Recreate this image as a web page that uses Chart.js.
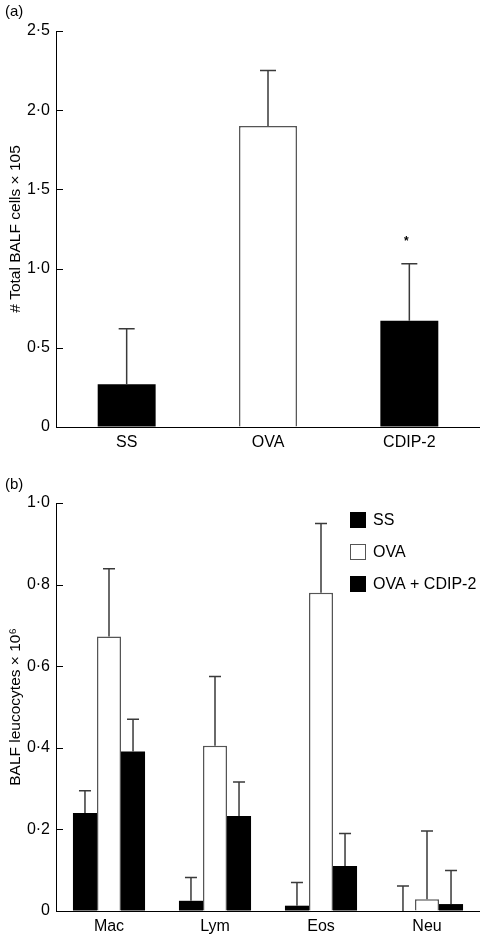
<!DOCTYPE html>
<html>
<head>
<meta charset="utf-8">
<script src="https://cdn.jsdelivr.net/npm/chart.js@4/dist/chart.umd.min.js"></script>
<style>
html, body { margin: 0; padding: 0; background: #fff; }
body { width: 480px; height: 936px; position: relative; overflow: hidden; font-family: 'Liberation Sans', Arial, Helvetica, sans-serif; }
.panel { position: absolute; left: 0; width: 480px; }
#wrapA { top: 0; height: 460px; }
#wrapB { top: 460px; height: 476px; }
.tag { position: absolute; left: 5px; font-size: 15px; line-height: 15px; color: #000; }
</style>
</head>
<body>
<div class="panel" id="wrapA"><canvas id="chartA" width="480" height="460"></canvas></div>
<div class="panel" id="wrapB"><canvas id="chartB" width="480" height="476"></canvas></div>
<div class="tag" style="top:3px">(a)</div>
<div class="tag" style="top:476px">(b)</div>
<script>
// panel (a) - total cells
const totalLabels = ['SS', 'OVA', 'CDIP-2'];
const totalMeans = [0.27, 1.9, 0.67];
const totalErrors = [0.35, 0.35, 0.36];
const totalMarks = ['', '', '*'];
const totalTicks = [0, 0.5, 1, 1.5, 2, 2.5];

// panel (b) - cell types
const cellLabels = ['Mac', 'Lym', 'Eos', 'Neu'];
const groupNames = ['SS', 'OVA', 'OVA + CDIP-2'];
const ssMeans = [0.24, 0.025, 0.013, 0];
const ssErrors = [0.055, 0.057, 0.057, 0.061];
const ovaMeans = [0.673, 0.405, 0.78, 0.029];
const ovaErrors = [0.166, 0.17, 0.17, 0.167];
const cdipMeans = [0.391, 0.233, 0.11, 0.017];
const cdipErrors = [0.079, 0.083, 0.08, 0.082];
const cellTicks = [0, 0.2, 0.4, 0.6, 0.8, 1.0];

const fontFamily = "'Liberation Sans', Arial, Helvetica, sans-serif";
Chart.defaults.font.family = fontFamily;
Chart.defaults.color = '#000';

function tickText(value) {
    return value === 0 ? '0' : value.toFixed(1).replace('.', '\u00b7');
}

// error bars (upper half only) + significance marks
const errorBars = {
    id: 'errorBars',
    afterDatasetsDraw(chart, args, opts) {
        const ctx = chart.ctx;
        const yScale = chart.scales.y;
        ctx.save();
        ctx.strokeStyle = '#3a3a3a';
        ctx.lineWidth = 1.5;
        chart.data.datasets.forEach(function(ds, i) {
            const meta = chart.getDatasetMeta(i);
            meta.data.forEach(function(bar, j) {
                const top = yScale.getPixelForValue(ds.data[j] + ds.errors[j]);
                ctx.beginPath();
                ctx.moveTo(bar.x, bar.y);
                ctx.lineTo(bar.x, top);
                ctx.moveTo(bar.x - opts.cap / 2, top);
                ctx.lineTo(bar.x + opts.cap / 2, top);
                ctx.stroke();
                if (ds.marks && ds.marks[j]) {
                    ctx.fillStyle = '#000';
                    ctx.font = 'bold 12px ' + fontFamily;
                    ctx.textAlign = 'center';
                    ctx.textBaseline = 'alphabetic';
                    ctx.fillText(ds.marks[j], bar.x - 3, top - 19);
                }
            });
        });
        ctx.restore();
    }
};

// y ticks pointing into the plot
const innerTicks = {
    id: 'innerTicks',
    afterDraw(chart, args, opts) {
        const ctx = chart.ctx;
        const yScale = chart.scales.y;
        ctx.save();
        ctx.strokeStyle = '#000';
        ctx.lineWidth = 1;
        yScale.ticks.forEach(function(t) {
            const py = Math.round(yScale.getPixelForValue(t.value)) + 0.5;
            ctx.beginPath();
            ctx.moveTo(yScale.right, py);
            ctx.lineTo(yScale.right + opts.length, py);
            ctx.stroke();
        });
        ctx.restore();
    }
};

// boxed legend inside the plot (panel b)
const boxLegend = {
    id: 'boxLegend',
    afterDraw(chart, args, opts) {
        if (!opts.show) return;
        const ctx = chart.ctx;
        ctx.save();
        ctx.font = '16px ' + fontFamily;
        ctx.textBaseline = 'middle';
        ctx.textAlign = 'left';
        chart.data.datasets.forEach(function(ds, i) {
            const cy = opts.top + i * opts.spacing;
            ctx.fillStyle = ds.backgroundColor;
            ctx.fillRect(opts.left, cy - 8, 16, 16);
            ctx.strokeStyle = ds.borderColor;
            ctx.lineWidth = 1;
            ctx.strokeRect(opts.left + 0.5, cy - 7.5, 15, 15);
            ctx.fillStyle = '#000';
            ctx.fillText(ds.label, opts.left + 23, cy + 1);
        });
        ctx.restore();
    }
};

function axisX() {
    return {
        grid: { drawOnChartArea: false, drawTicks: false },
        border: { display: true, color: '#000', width: 1 },
        ticks: { font: { size: 16 }, padding: 6 }
    };
}

function axisY(maxVal, tickList, titleText, axisW) {
    return {
        min: 0,
        max: maxVal,
        afterBuildTicks: function(s) { s.ticks = tickList.map(function(v) { return { value: v }; }); },
        grid: { drawOnChartArea: false, drawTicks: false },
        border: { display: true, color: '#000', width: 1 },
        ticks: { font: { size: 16 }, padding: 6, callback: tickText },
        title: { display: true, text: titleText, font: { size: 15.5 }, padding: { top: 6, bottom: 0 } },
        afterFit: function(s) { s.width = axisW; }
    };
}

const xA = axisX();
xA.afterFit = function(s) { s.height = 33; };
new Chart(document.getElementById('chartA'), {
    type: 'bar',
    data: {
        labels: totalLabels,
        datasets: [{
            label: 'Total',
            data: totalMeans,
            errors: totalErrors,
            marks: totalMarks,
            backgroundColor: ['#000', '#fff', '#000'],
            borderColor: ['#000', '#555', '#000'],
            borderWidth: [0, 1.5, 0],
            barPercentage: 0.41,
            categoryPercentage: 1.0
        }]
    },
    options: {
        responsive: false,
        animation: false,
        layout: { padding: { top: 31, right: 0, left: 0, bottom: 0 } },
        scales: {
            x: xA,
            y: axisY(2.5, totalTicks, '# Total BALF cells \u00d7 105', 56)
        },
        plugins: {
            legend: { display: false },
            tooltip: { enabled: false },
            errorBars: { cap: 16 },
            innerTicks: { length: 7 },
            boxLegend: { show: false }
        }
    },
    plugins: [errorBars, innerTicks, boxLegend]
});

const xB = axisX();
xB.afterFit = function(s) { s.height = 25; };
new Chart(document.getElementById('chartB'), {
    type: 'bar',
    data: {
        labels: cellLabels,
        datasets: [
            { label: groupNames[0], data: ssMeans, errors: ssErrors, backgroundColor: '#000', borderColor: '#000', borderWidth: 0 },
            { label: groupNames[1], data: ovaMeans, errors: ovaErrors, backgroundColor: '#fff', borderColor: '#555', borderWidth: 1.5 },
            { label: groupNames[2], data: cdipMeans, errors: cdipErrors, backgroundColor: '#000', borderColor: '#000', borderWidth: 0 }
        ]
    },
    options: {
        responsive: false,
        animation: false,
        datasets: { bar: { barPercentage: 1.0, categoryPercentage: 0.68 } },
        layout: { padding: { top: 43, right: 0, left: 0, bottom: 0 } },
        scales: {
            x: xB,
            y: axisY(1.0, cellTicks, 'BALF leucocytes \u00d7 10\u2076', 56)
        },
        plugins: {
            legend: { display: false },
            tooltip: { enabled: false },
            errorBars: { cap: 12 },
            innerTicks: { length: 7 },
            boxLegend: { show: true, left: 350, top: 60, spacing: 32 }
        }
    },
    plugins: [errorBars, innerTicks, boxLegend]
});
</script>
</body>
</html>
